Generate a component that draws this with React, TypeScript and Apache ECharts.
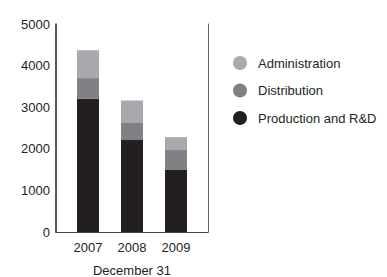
import React, { useEffect, useRef } from "react";
import * as echarts from "echarts";

const years = ["2007", "2008", "2009"];
const production = [3200, 2210, 1490];
const distribution = [500, 410, 480];
const administration = [670, 540, 310];
const seriesNames = ["Administration", "Distribution", "Production and R&D"];
const yTicks = [0, 1000, 2000, 3000, 4000, 5000];

const FONT = "'Liberation Sans', Arial, sans-serif";
const TEXT = "#231f20";
const FS = 13;

export default function App() {
  const ref = useRef<HTMLDivElement>(null);
  useEffect(() => {
    document.body.style.margin = "0";
    if (!ref.current) return;
    const chart = echarts.init(ref.current, null, { renderer: "svg" });
    const top = 24;
    const height = 208;
    chart.setOption({
      animation: false,
      textStyle: { fontFamily: FONT },
      grid: [
        { left: 56, top, width: 152, height, outerBoundsMode: "none", containLabel: false },
        { left: 66, top, width: 132, height, outerBoundsMode: "none", containLabel: false },
      ],
      legend: {
        orient: "vertical",
        left: 233,
        top: 56,
        padding: 0,
        icon: "circle",
        itemWidth: 14,
        itemHeight: 14,
        itemGap: 13.5,
        data: seriesNames,
        textStyle: { fontFamily: FONT, fontSize: FS, color: TEXT, padding: [0, 0, 0, 6] },
      },
      xAxis: [
        {
          gridIndex: 0,
          type: "value",
          min: 0,
          max: 1,
          axisLine: { show: true, onZero: false, lineStyle: { color: "#444", width: 1.2 } },
          axisTick: { show: false },
          axisLabel: { show: false },
          splitLine: { show: false },
        },
        {
          gridIndex: 1,
          type: "category",
          data: years,
          axisLine: { show: false },
          axisTick: { show: false },
          axisLabel: { fontFamily: FONT, fontSize: FS, color: TEXT, margin: 9 },
          name: "December 31",
          nameLocation: "middle",
          nameGap: 32,
          nameTextStyle: { fontFamily: FONT, fontSize: FS, color: TEXT },
        },
      ],
      yAxis: [
        {
          gridIndex: 0,
          type: "value",
          min: yTicks[0],
          max: yTicks[yTicks.length - 1],
          interval: 1000,
          axisLine: { show: true, lineStyle: { color: "#222", width: 1.5 } },
          axisTick: { show: false },
          splitLine: { show: false },
          axisLabel: {
            fontFamily: FONT,
            fontSize: FS,
            color: TEXT,
            margin: 6,
            formatter: (v: number) => String(v),
          },
        },
        {
          gridIndex: 0,
          type: "value",
          position: "right",
          min: 0,
          max: 5000,
          axisLine: { show: true, lineStyle: { color: "#666", width: 1 } },
          axisTick: { show: false },
          axisLabel: { show: false },
          splitLine: { show: false },
        },
        {
          gridIndex: 1,
          type: "value",
          min: 0,
          max: 5000,
          show: false,
        },
      ],
      series: [
        {
          name: "Production and R&D",
          type: "bar",
          stack: "total",
          xAxisIndex: 1,
          yAxisIndex: 2,
          barWidth: 22,
          data: production,
          itemStyle: { color: "#231f20" },
        },
        {
          name: "Distribution",
          type: "bar",
          stack: "total",
          xAxisIndex: 1,
          yAxisIndex: 2,
          barWidth: 22,
          data: distribution,
          itemStyle: { color: "#808184" },
        },
        {
          name: "Administration",
          type: "bar",
          stack: "total",
          xAxisIndex: 1,
          yAxisIndex: 2,
          barWidth: 22,
          data: administration,
          itemStyle: { color: "#a7a9ac" },
        },
      ],
    });
    return () => chart.dispose();
  }, []);
  return <div ref={ref} style={{ width: 387, height: 277 }} />;
}
